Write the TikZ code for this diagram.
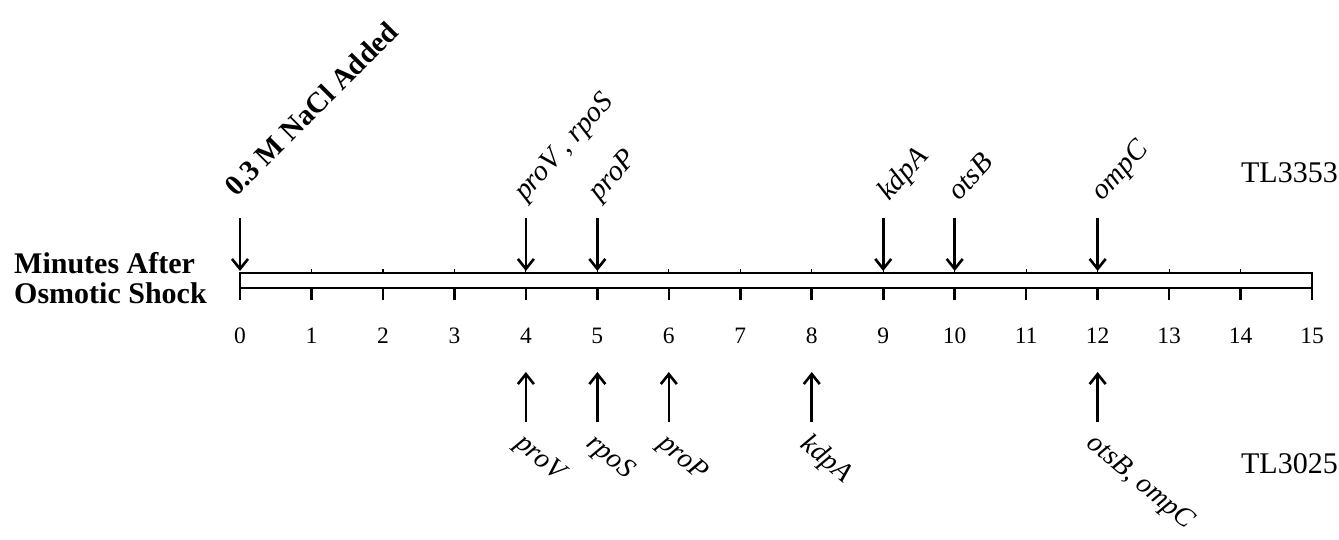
\documentclass[tikz,border=0pt]{standalone}
\usepackage{fontspec}
\setmainfont{Liberation Serif}
\usetikzlibrary{arrows.meta,calc}
\begin{document}
\begin{tikzpicture}[x=1pt,y=-1pt,
  axisline/.style={line width=2.8pt},
  tickline/.style={line width=2.6pt},
  minortick/.style={line width=1.2pt},
  evarrow/.style={line width=2.6pt,-{Straight Barb[length=10pt,width=16pt,line width=2.6pt]}},
  numlbl/.style={font=\fontsize{23.5}{26}\selectfont, inner sep=0pt},
  genelbl/.style={font=\fontsize{29}{32}\selectfont\itshape, inner sep=0pt},
  geneblbl/.style={font=\fontsize{28}{30}\selectfont\itshape, inner sep=0pt},
  boldlbl/.style={font=\fontsize{29}{32}\selectfont\bfseries, inner sep=0pt},
  strainlbl/.style={font=\fontsize{30}{32}\selectfont, inner sep=0pt},
  titlelbl/.style={font=\fontsize{30}{32}\selectfont\bfseries, inner sep=0pt}]
\useasboundingbox (0,0) rectangle (1339,540);
\def\xo{240}
\def\ux{71.47}
% axis bar
\coordinate (barTL) at (240,273);
\coordinate (barTR) at (1312,273);
\coordinate (barBL) at (240,288);
\coordinate (barBR) at (1312,288);
\draw[axisline] (barTL) -- (barTR);
\draw[axisline] (barBL) -- (barBR);
\draw[tickline] (240,271.6) -- (240,300);
\draw[tickline] (1312,271.6) -- (1312,300);
\foreach \k in {1,...,14}{
  \pgfmathsetmacro{\xx}{\xo+\ux*\k}
  \draw[tickline] (\xx,288) -- (\xx,300);
  \draw[minortick] (\xx,269.5) -- (\xx,273);
}
% numbers
\foreach \k in {0,...,15}{
  \pgfmathsetmacro{\xx}{\xo+\ux*\k}
  \node[numlbl, anchor=base] (n\k) at (\xx,343) {\k};
}
% titles
\node[titlelbl, anchor=base west] (title1) at (14,273) {Minutes After};
\node[titlelbl, anchor=base west] (title2) at (14,303) {Osmotic Shock};
\node[strainlbl, anchor=base east] (s1) at (1338,183) {TL3353};
\node[strainlbl, anchor=base east] (s2) at (1338,473) {TL3025};
% top arrows
\foreach \k in {0,4,5,9,10,12}{
  \pgfmathsetmacro{\xx}{\xo+\ux*\k}
  \coordinate (ta\k) at (\xx,218);
  \coordinate (tb\k) at (\xx,271);
  \draw[evarrow] (ta\k) -- (tb\k);
}
% bottom arrows
\foreach \k in {4,5,6,8,12}{
  \pgfmathsetmacro{\xx}{\xo+\ux*\k}
  \coordinate (ba\k) at (\xx,422);
  \coordinate (bb\k) at (\xx,372);
  \draw[evarrow] (ba\k) -- (bb\k);
}
% top labels
\node[boldlbl, rotate=45, anchor=base west] (nacl) at ($(ta0)+(-4,-20)$) {0.3 M NaCl Added};
\node[genelbl, rotate=48, anchor=base west] (t4) at ($(ta4)+(-1,-16)$) {proV , rpoS};
\node[genelbl, rotate=48, anchor=base west] (t5) at ($(ta5)+(2,-16)$) {proP};
\node[genelbl, rotate=48, anchor=base west] (t9) at ($(ta9)+(6,-16)$) {kdpA};
\node[genelbl, rotate=48, anchor=base west] (t10) at ($(ta10)+(5,-16)$) {otsB};
\node[genelbl, rotate=48, anchor=base west] (t12) at ($(ta12)+(5,-16)$) {ompC};
% bottom labels
\node[geneblbl, rotate=-40, anchor=west] (b4) at ($(ba4)+(-8,19)$) {proV};
\node[geneblbl, rotate=-40, anchor=west] (b5) at ($(ba5)+(-8,19)$) {rpoS};
\node[geneblbl, rotate=-40, anchor=west] (b6) at ($(ba6)+(-8,19)$) {proP};
\node[geneblbl, rotate=-40, anchor=west] (b8) at ($(ba8)+(-8,19)$) {kdpA};
\node[geneblbl, rotate=-40, anchor=west] (b12) at ($(ba12)+(-8,19)$) {otsB, ompC};
\end{tikzpicture}
\end{document}
